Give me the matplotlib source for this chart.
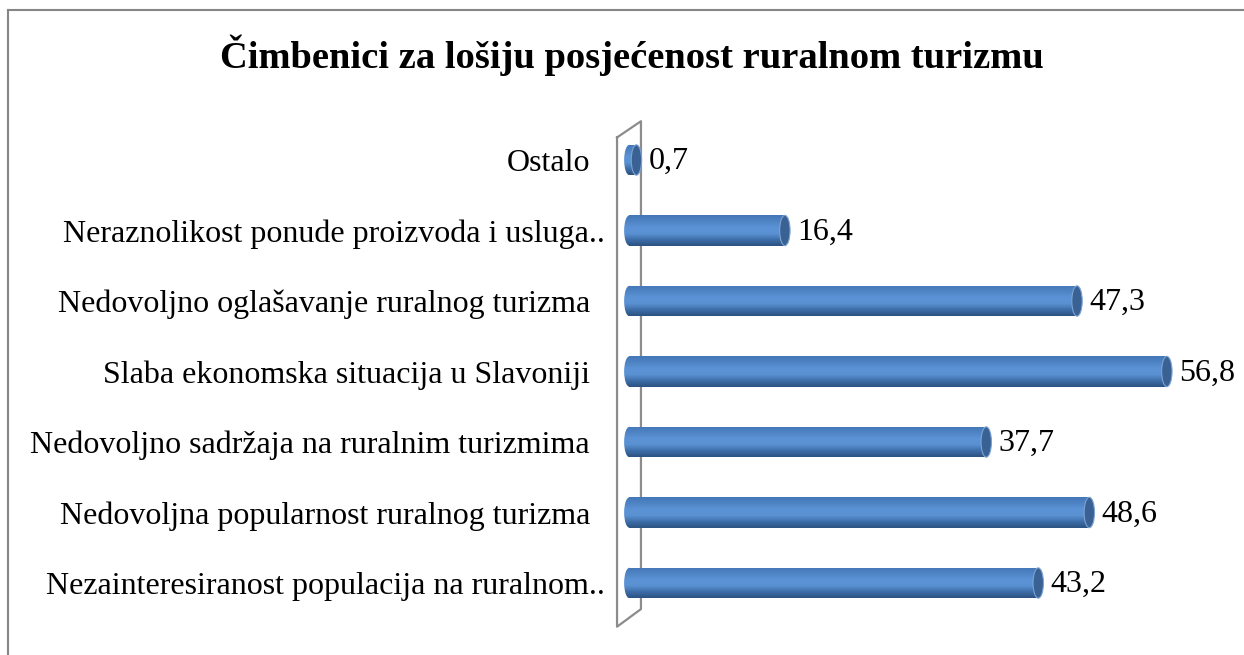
import numpy as np
import matplotlib
matplotlib.use("Agg")
import matplotlib.pyplot as plt
from matplotlib.patches import Rectangle, Ellipse
from matplotlib.lines import Line2D
from matplotlib.colors import LinearSegmentedColormap

# ---- data ----
title = "Čimbenici za lošiju posjećenost ruralnom turizmu"
categories = [
    "Nezainteresiranost populacija na ruralnom..",
    "Nedovoljna popularnost ruralnog turizma",
    "Nedovoljno sadržaja na ruralnim turizmima",
    "Slaba ekonomska situacija u Slavoniji",
    "Nedovoljno oglašavanje ruralnog turizma",
    "Neraznolikost ponude proizvoda i usluga..",
    "Ostalo",
]
values = [43.2, 48.6, 37.7, 56.8, 47.3, 16.4, 0.7]
value_labels = ["43,2", "48,6", "37,7", "56,8", "47,3", "16,4", "0,7"]

plt.rcParams['font.family'] = ['Liberation Serif', 'DejaVu Serif']

W, H = 1244, 655
fig = plt.figure(figsize=(W / 100, H / 100), dpi=100)
fig.patch.set_facecolor('white')

# layout (pixel geometry of the plot area)
px_per_unit = 9.455
x0_px = 635.0
y0_px = 583.0
row_px = 70.5
xlim = (-3.0, 64.0)
ylim = (-1.0, 7.0)
left_px = x0_px + xlim[0] * px_per_unit
right_px = x0_px + xlim[1] * px_per_unit
bottom_px = y0_px - ylim[0] * row_px
top_px = y0_px - ylim[1] * row_px
ax = fig.add_axes([left_px / W, (H - bottom_px) / H,
                   (right_px - left_px) / W, (bottom_px - top_px) / H])
ax.set_xlim(*xlim)
ax.set_ylim(*ylim)
ax.set_facecolor('none')
for s in ax.spines.values():
    s.set_visible(False)
ax.set_xticks([])
ypos = np.arange(len(categories))
ax.set_yticks(ypos)
tick_texts = [c if not c.endswith('..') else '' for c in categories]
ax.set_yticklabels(tick_texts, fontsize=23)
ax.tick_params(axis='y', length=0, pad=12)
# truncated labels overflow slightly to the right (clipped ellipsis)
trunc_x = (605 - left_px) / (right_px - left_px)
for y, c in zip(ypos, categories):
    if c.endswith('..'):
        ax.text(trunc_x, y, c, transform=ax.get_yaxis_transform(),
                ha='right', va='center_baseline', fontsize=23)

# wall (3D axis plane)
wall_col = '#8c8c8c'
wl, wr = -1.9, 0.63
ax.plot([wl, wl, wr, wr, wl], [6.32, -0.62, -0.37, 6.55, 6.32],
        color=wall_col, lw=1.6, clip_on=False, zorder=1)

# cylinder bars
cmap = LinearSegmentedColormap.from_list(
    'cyl', ['#2c5382', '#3d6ea9', '#5a91d2', '#5b93d6', '#4f84c4', '#4377b8'])
grad = np.linspace(0, 1, 64).reshape(-1, 1)
bh = 0.43
capw = 1.1
for y, v, lab in zip(ypos, values, value_labels):
    xs = -capw / 2 - 0.05
    xe = v - capw / 2
    body = Rectangle((xs, y - bh / 2), xe - xs, bh, fc='none', ec='none')
    ax.add_patch(body)
    lcap = Ellipse((xs, y), capw, bh, fc='none', ec='none')
    ax.add_patch(lcap)
    for clipper in (body, lcap):
        im = ax.imshow(grad, cmap=cmap, aspect='auto', origin='lower',
                       extent=(xs - capw / 2, xe, y - bh / 2, y + bh / 2),
                       zorder=2, interpolation='bilinear')
        im.set_clip_path(clipper)
    rcap = Ellipse((xe, y), capw, bh, fc='#3a6194', ec='#7da3d2', lw=0.8, zorder=3)
    ax.add_patch(rcap)
    ax.annotate(lab, xy=(v, y), xytext=(5, -1), textcoords='offset points',
                ha='left', va='center', fontsize=23, color='black')

ax.set_xlim(*xlim)
ax.set_ylim(*ylim)

# title
fig.text(632 / W, 1 - 55 / H, title, ha='center', va='center',
         fontsize=27.7, fontweight='bold')

# chart frame (top and left edges visible)
fig.add_artist(Line2D([8 / W, 8 / W], [0, 1 - 9.5 / H], transform=fig.transFigure,
                      color='#868686', lw=1.5))
fig.add_artist(Line2D([8 / W, 1], [1 - 9.5 / H, 1 - 9.5 / H], transform=fig.transFigure,
                      color='#868686', lw=1.5))

fig.savefig('out.png', dpi=100)
